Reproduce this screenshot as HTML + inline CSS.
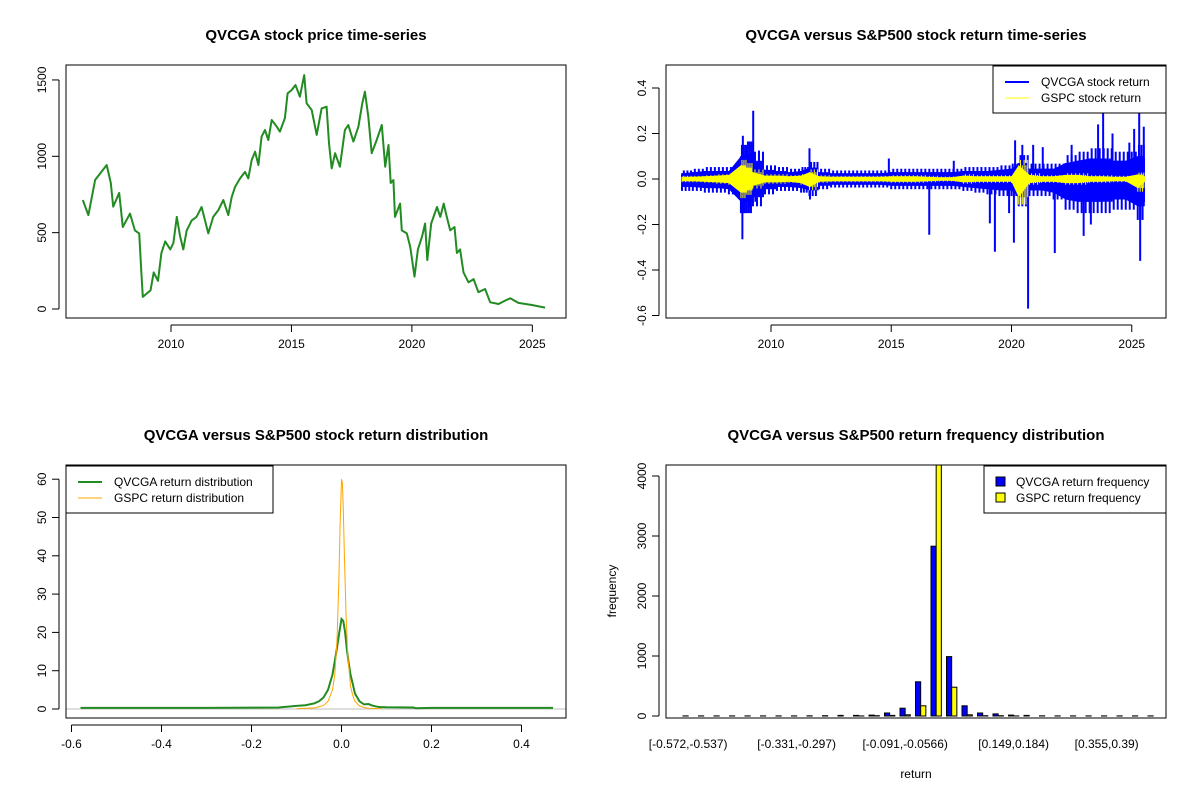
<!DOCTYPE html>
<html><head><meta charset="utf-8"><style>
html,body{margin:0;padding:0;background:#fff}
svg{display:block;font-family:"Liberation Sans",Arial,sans-serif}
</style></head><body>
<svg id="c" width="1200" height="800" viewBox="0 0 1200 800"></svg>
<script>
// ---------- data ----------
const priceYears=[2006.34,2006.57,2006.85,2007.33,2007.5,2007.6,2007.85,2008.0,2008.3,2008.5,2008.68,2008.77,2008.83,2009.15,2009.28,2009.46,2009.6,2009.76,2009.97,2010.1,2010.24,2010.38,2010.51,2010.65,2010.86,2011.06,2011.27,2011.41,2011.55,2011.75,2011.96,2012.17,2012.38,2012.52,2012.66,2012.87,2013.07,2013.21,2013.35,2013.49,2013.63,2013.76,2013.9,2014.04,2014.18,2014.39,2014.52,2014.73,2014.84,2015.01,2015.17,2015.35,2015.53,2015.63,2015.84,2016.05,2016.25,2016.46,2016.56,2016.67,2016.81,2017.01,2017.22,2017.36,2017.57,2017.78,2017.94,2018.05,2018.19,2018.33,2018.54,2018.75,2018.89,2019.03,2019.12,2019.23,2019.3,2019.51,2019.58,2019.79,2019.93,2020.11,2020.25,2020.42,2020.55,2020.64,2020.8,2021.04,2021.18,2021.32,2021.45,2021.59,2021.77,2021.87,2022.0,2022.14,2022.35,2022.56,2022.76,2023.04,2023.25,2023.6,2023.87,2024.08,2024.42,2024.98,2025.53];
const priceValues=[714,615,845,943,825,670,760,537,625,515,495,236,79,122,240,185,367,443,390,432,603,473,390,515,580,603,668,580,495,603,646,714,615,733,800,855,898,855,976,1030,943,1129,1172,1107,1238,1194,1162,1250,1412,1434,1467,1390,1532,1347,1303,1140,1314,1325,1085,921,1020,932,1172,1205,1096,1194,1347,1423,1260,1020,1107,1205,932,1074,825,845,603,690,515,495,408,212,390,473,560,320,560,668,603,690,603,515,537,367,390,240,175,196,110,131,44,33,55,70,40,26,9];
const priceTicks=[0,500,1000,1500];
const yearTicks=[2010,2015,2020,2025];

// returns: semi-annual envelopes
const envYears=[2006.3,2006.75,2007.25,2007.75,2008.25,2008.75,2009.0,2009.25,2009.75,2010.25,2010.75,2011.25,2011.6,2012.0,2012.5,2013.0,2013.5,2014.0,2014.5,2015.0,2015.5,2016.0,2016.5,2017.0,2017.5,2018.0,2018.5,2019.0,2019.5,2020.0,2020.3,2020.75,2021.25,2021.75,2022.25,2022.75,2023.25,2023.75,2024.25,2024.75,2025.25,2025.55];
const qvcUp=[0.025,0.03,0.035,0.035,0.035,0.1,0.11,0.08,0.04,0.035,0.03,0.035,0.05,0.03,0.025,0.025,0.025,0.025,0.025,0.03,0.03,0.03,0.03,0.03,0.03,0.035,0.035,0.035,0.04,0.045,0.07,0.045,0.045,0.045,0.07,0.08,0.09,0.09,0.08,0.08,0.1,0.09];
const qvcLo=[-0.035,-0.035,-0.04,-0.04,-0.045,-0.1,-0.1,-0.08,-0.045,-0.035,-0.035,-0.04,-0.05,-0.03,-0.025,-0.025,-0.025,-0.025,-0.025,-0.03,-0.03,-0.03,-0.03,-0.03,-0.03,-0.035,-0.04,-0.045,-0.05,-0.05,-0.08,-0.05,-0.05,-0.06,-0.09,-0.1,-0.1,-0.1,-0.09,-0.09,-0.12,-0.1];
const gspcUp=[0.01,0.01,0.012,0.015,0.018,0.06,0.05,0.03,0.015,0.015,0.012,0.015,0.03,0.012,0.01,0.01,0.01,0.01,0.01,0.012,0.012,0.012,0.01,0.008,0.008,0.015,0.012,0.012,0.012,0.012,0.06,0.018,0.012,0.012,0.018,0.018,0.012,0.012,0.01,0.01,0.02,0.012];
const gspcLo=[-0.01,-0.01,-0.012,-0.015,-0.018,-0.06,-0.05,-0.03,-0.015,-0.015,-0.012,-0.018,-0.035,-0.012,-0.01,-0.01,-0.01,-0.01,-0.01,-0.012,-0.012,-0.012,-0.01,-0.008,-0.008,-0.015,-0.012,-0.012,-0.012,-0.012,-0.08,-0.018,-0.012,-0.012,-0.018,-0.018,-0.012,-0.012,-0.01,-0.01,-0.04,-0.012];
const spikeYears=[2008.81,2008.83,2008.9,2009.0,2009.1,2009.26,2009.35,2009.5,2011.6,2011.62,2014.9,2016.58,2017.6,2019.1,2019.31,2019.9,2020.1,2020.15,2020.45,2020.69,2020.9,2021.3,2021.8,2022.5,2023.0,2023.3,2023.6,2023.81,2024.2,2024.9,2025.1,2025.31,2025.35,2025.5];
const spikeValues=[-0.265,0.19,-0.15,0.14,-0.12,0.3,-0.1,0.125,0.135,-0.09,0.09,-0.245,0.08,-0.195,-0.32,-0.15,-0.28,0.17,0.15,-0.57,0.15,0.14,-0.325,0.15,-0.25,-0.2,0.24,0.3,0.2,0.16,0.22,0.29,-0.36,0.23];
const retTicks=[-0.6,-0.4,-0.2,0.0,0.2,0.4];

// densities
const qvcDensX=[-0.58,-0.3,-0.14,-0.1,-0.08,-0.06,-0.05,-0.04,-0.03,-0.02,-0.015,-0.01,-0.005,0,0.004,0.008,0.012,0.016,0.02,0.025,0.03,0.035,0.04,0.05,0.06,0.066,0.075,0.085,0.1,0.16,0.165,0.2,0.47];
const qvcDensY=[0.3,0.3,0.4,0.8,1,1.5,2,3,5,9,12.5,16,20,23.5,23,20,15.5,12,9,6.5,4,3,2,1.2,1.3,1.0,0.7,0.5,0.45,0.4,0.2,0.3,0.3];
const spDensX=[-0.1,-0.08,-0.06,-0.04,-0.03,-0.02,-0.015,-0.01,-0.006,-0.003,0,0.002,0.004,0.007,0.01,0.014,0.02,0.025,0.03,0.04,0.05,0.06,0.09];
const spDensY=[0.1,0.2,0.3,0.9,2,5,9,18,33,48,60,59,52,38,25,14,6,3.5,2,0.8,0.4,0.2,0.05];
const densXTicks=[-0.6,-0.4,-0.2,0.0,0.2,0.4];
const densYTicks=[0,10,20,30,40,50,60];

// histogram (31 bins)
const binLabels=["[-0.572,-0.537)","[-0.331,-0.297)","[-0.091,-0.0566)","[0.149,0.184)","[0.355,0.39)"];
const binLabelIdx=[0,7,14,21,27];
const qvcFreq=[2,2,2,2,2,2,2,2,3,5,10,10,15,50,130,570,2830,990,170,50,35,15,10,3,2,2,2,2,2,2,2];
const spFreq=[0,0,0,0,0,0,0,0,0,0,0,1,5,10,20,170,4650,480,20,5,5,1,0,0,0,0,0,0,0,0,0];
const freqTicks=[0,1000,2000,3000,4000];

// ---------- helpers ----------
const S=document.getElementById('c');const NS='http://www.w3.org/2000/svg';
function mk(t,a,p){const e=document.createElementNS(NS,t);for(const k in a)e.setAttribute(k,a[k]);(p||S).appendChild(e);return e;}
function txt(s,x,y,o,p){const e=mk('text',Object.assign({x:x,y:y,'font-size':12,'text-anchor':'middle',fill:'#000'},o||{}),p);e.textContent=s;return e;}
function fmt1(v){return v.toFixed(1);}
const BX=[66,566],BY=[65,318];
function panel(name,dx,dy,title){
  const g=mk('g',{transform:`translate(${dx},${dy})`});
  
  
  const t=txt(title,(BX[0]+BX[1])/2,40,{'font-size':15,'font-weight':'bold'},g);
  
  
  return g;
}
function box(g){const r=mk('rect',{x:BX[0],y:BY[0],width:BX[1]-BX[0],height:BY[1]-BY[0],fill:'none',stroke:'#000','stroke-width':1},g);
  
  }
function yAxis(g,ticks,fy,lab){const a=mk('g',{},g);
  
  
  mk('line',{x1:BX[0]-7,x2:BX[0]-7,y1:fy(ticks[0]),y2:fy(ticks[ticks.length-1]),stroke:'#000'},a);
  ticks.forEach(v=>{const y=fy(v);mk('line',{x1:BX[0]-7,x2:BX[0]-14,y1:y,y2:y,stroke:'#000'},a);
    const t=txt(lab(v),0,0,{transform:`translate(${BX[0]-20},${y}) rotate(-90)`},a);
    
    });}
function xAxis(g,ticks,fx,lab){const a=mk('g',{},g);
  
  
  mk('line',{x1:fx(ticks[0]),x2:fx(ticks[ticks.length-1]),y1:BY[1]+7,y2:BY[1]+7,stroke:'#000'},a);
  ticks.forEach(v=>{const x=fx(v);mk('line',{x1:x,x2:x,y1:BY[1]+7,y2:BY[1]+14,stroke:'#000'},a);
    const t=txt(lab(v),x,BY[1]+30,{},a);
    
    });}
function legend(g,x1,x2,items,kind){const L=mk('g',{},g);
  
  
  mk('rect',{x:x1,y:BY[0]+1,width:x2-x1,height:47,fill:'#fff',stroke:'#000'},L);
  items.forEach((it,i)=>{const y=BY[0]+17+i*16;
    const e=mk('g',{},L);
    
    
    if(kind==='box')mk('rect',{x:x1+12,y:y-5,width:9,height:9,fill:it.c,stroke:'#000'},e);
    else mk('line',{x1:x1+12,x2:x1+36,y1:y,y2:y,stroke:it.c,'stroke-width':it.w},e);
    txt(it.t,x1+(kind==='box'?32:48),y+4,{'text-anchor':'start'},e);});}

// ---------- panel 1: price ----------
(function(){
  const g=panel('price-panel',0,0,'QVCGA stock price time-series');
  const fx=y=>171+(y-2010)*24.09, fy=v=>309-v*0.1527;
  const d=priceYears.map((y,i)=>(i?'L':'M')+fx(y).toFixed(1)+','+fy(priceValues[i]).toFixed(1)).join('');
  const p=mk('path',{d:d,fill:'none',stroke:'#228B22','stroke-width':2,'stroke-linejoin':'round'},g);
  
  
  box(g);yAxis(g,priceTicks,fy,v=>String(v));xAxis(g,yearTicks,fx,v=>String(v));
})();

// ---------- panel 2: returns ----------
(function(){
  const g=panel('returns-panel',600,0,'QVCGA versus S&P500 stock return time-series');
  const fx=y=>171+(y-2010)*24.05, fy=v=>179-v*227.5;
  function band(up,lo,col,w,name,mult){
    const pts=envYears.map((y,i)=>fx(y).toFixed(1)+','+fy(up[i]).toFixed(1)).concat(envYears.map((y,i)=>fx(y).toFixed(1)+','+fy(lo[i]).toFixed(1)).reverse());
    const b=mk('polygon',{points:pts.join(' '),fill:col,stroke:'none'},g);
    
    
    envYears.forEach((y,i)=>{if(i===envYears.length-1)return;
      for(let k=0;k<6;k++){const yy=y+(envYears[i+1]-y)*k/6;const x=fx(yy);
        const s=mk('line',{x1:x,x2:x,y1:fy(up[i]*(k%2?mult:1)),y2:fy(lo[i]*(k%2?1:mult)),stroke:col,'stroke-width':w},g);
        
        }});
  }
  band(qvcUp,qvcLo,'#0000FF',2,'qvcga-return-series',1.5);
  spikeYears.forEach((y,i)=>{const s=mk('line',{x1:fx(y),x2:fx(y),y1:fy(0),y2:fy(spikeValues[i]),stroke:'#0000FF','stroke-width':2},g);
    
    });
  band(gspcUp,gspcLo,'#FFFF00',1,'gspc-return-series',1.4);
  box(g);yAxis(g,retTicks,fy,fmt1);xAxis(g,yearTicks,fx,v=>String(v));
  legend(g,393,566,[{t:'QVCGA stock return',c:'#0000FF',w:2},{t:'GSPC stock return',c:'#FFFF00',w:1}],'line');
})();

// ---------- panel 3: density ----------
(function(){
  const g=panel('density-panel',0,400,'QVCGA versus S&P500 stock return distribution');
  const fx=v=>341.5+v*450, fy=v=>309-v*3.83;
  const base=mk('line',{x1:BX[0],x2:BX[1],y1:fy(0),y2:fy(0),stroke:'#bebebe'},g);
  
  
  const d1=qvcDensX.map((x,i)=>(i?'L':'M')+fx(x).toFixed(1)+','+fy(qvcDensY[i]).toFixed(1)).join('');
  const p1=mk('path',{d:d1,fill:'none',stroke:'#228B22','stroke-width':2},g);
  
  
  const d2=spDensX.map((x,i)=>(i?'L':'M')+fx(x).toFixed(1)+','+fy(spDensY[i]).toFixed(1)).join('');
  const p2=mk('path',{d:d2,fill:'none',stroke:'#FFA500','stroke-width':1},g);
  
  
  box(g);yAxis(g,densYTicks,fy,v=>String(v));xAxis(g,densXTicks,fx,fmt1);
  legend(g,66,273,[{t:'QVCGA return distribution',c:'#228B22',w:2},{t:'GSPC return distribution',c:'#FFA500',w:1}],'line');
})();

// ---------- panel 4: histogram ----------
(function(){
  const g=panel('frequency-panel',600,400,'QVCGA versus S&P500 return frequency distribution');
  const fy=v=>Math.max(BY[0],316-v*0.06);
  const step=15.5,bw=5.17,x0=83;
  qvcFreq.forEach((v,i)=>{const x=x0+i*step;
    const b1=mk('rect',{x:x,y:fy(v),width:bw,height:316-fy(v),fill:'#0000FF',stroke:'#000','stroke-width':1},g);
    
    
    const b2=mk('rect',{x:x+bw,y:fy(spFreq[i]),width:bw,height:316-fy(spFreq[i]),fill:'#FFFF00',stroke:'#000','stroke-width':1},g);
    
    });
  box(g);
  const a=mk('g',{},g);
  
  
  mk('line',{x1:BX[0]-7,x2:BX[0]-7,y1:fy(0),y2:316-4000*0.06,stroke:'#000'},a);
  freqTicks.forEach(v=>{const y=316-v*0.06;mk('line',{x1:BX[0]-7,x2:BX[0]-14,y1:y,y2:y,stroke:'#000'},a);
    const t=txt(String(v),0,0,{transform:`translate(${BX[0]-20},${y}) rotate(-90)`},a);
    
    });
  binLabels.forEach((s,k)=>{const t=txt(s,x0+binLabelIdx[k]*step+bw,BY[1]+30,{},g);
    
    });
  const xt=txt('return',316,378,{},g);
  
  
  const yt=txt('frequency',0,0,{transform:'translate(16,191) rotate(-90)'},g);
  
  
  legend(g,384,566,[{t:'QVCGA return frequency',c:'#0000FF'},{t:'GSPC return frequency',c:'#FFFF00'}],'box');
})();
</script>
</body></html>
